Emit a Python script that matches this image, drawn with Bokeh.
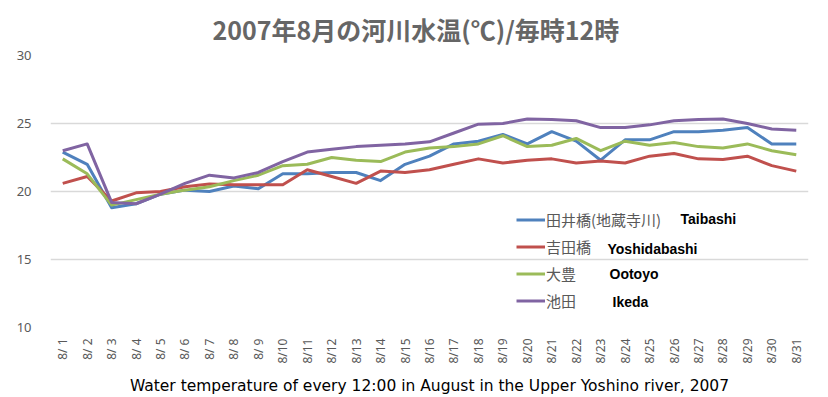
import math
from bokeh.plotting import figure
from bokeh.models import Legend, LegendItem, Label, ColumnDataSource, FixedTicker
from bokeh.embed import file_html
from bokeh.resources import INLINE

days = ["8/ 1", "8/ 2", "8/ 3", "8/ 4", "8/ 5", "8/ 6", "8/ 7", "8/ 8", "8/ 9", "8/10",
        "8/11", "8/12", "8/13", "8/14", "8/15", "8/16", "8/17", "8/18", "8/19", "8/20",
        "8/21", "8/22", "8/23", "8/24", "8/25", "8/26", "8/27", "8/28", "8/29", "8/30", "8/31"]

taibashi = [22.9, 22.0, 18.8, 19.1, 19.8, 20.1, 20.0, 20.4, 20.2, 21.3,
            21.3, 21.4, 21.4, 20.8, 22.0, 22.6, 23.5, 23.7, 24.2, 23.5,
            24.4, 23.7, 22.3, 23.8, 23.8, 24.4, 24.4, 24.5, 24.7, 23.5, 23.5]
yoshidabashi = [20.6, 21.1, 19.3, 19.9, 20.0, 20.35, 20.55, 20.5, 20.5, 20.5,
                21.6, 21.1, 20.6, 21.5, 21.4, 21.6, 22.0, 22.4, 22.1, 22.3,
                22.4, 22.1, 22.25, 22.1, 22.6, 22.8, 22.4, 22.35, 22.6, 21.9, 21.5]
ootoyo = [22.4, 21.3, 19.0, 19.4, 19.8, 20.1, 20.35, 20.8, 21.2, 21.9,
          22.0, 22.5, 22.3, 22.2, 22.9, 23.2, 23.3, 23.5, 24.1, 23.3,
          23.4, 23.9, 23.0, 23.7, 23.4, 23.6, 23.3, 23.2, 23.5, 23.0, 22.7]
ikeda = [23.0, 23.5, 19.2, 19.1, 19.8, 20.6, 21.2, 21.0, 21.4, 22.2,
         22.9, 23.1, 23.3, 23.4, 23.5, 23.65, 24.3, 24.95, 25.0, 25.33,
         25.3, 25.2, 24.7, 24.7, 24.9, 25.2, 25.3, 25.33, 25.0, 24.6, 24.5]

series_jp = ["田井橋(地蔵寺川)", "吉田橋", "大豊", "池田"]
series_en = ["Taibashi", "Yoshidabashi", "Ootoyo", "Ikeda"]
colors = ["#4F81BD", "#C0504D", "#9BBB59", "#8064A2"]
y_ticks = [10, 15, 20, 25, 30]

title_text = "2007年8月の河川水温(℃)/毎時12時"
bottom_text = "Water temperature of every 12:00 in August in the Upper Yoshino river, 2007"

src = ColumnDataSource(dict(day=days, taibashi=taibashi, yoshidabashi=yoshidabashi,
                            ootoyo=ootoyo, ikeda=ikeda))

p = figure(width=828, height=397, x_range=days, y_range=(10, 30),
           output_backend="svg", toolbar_location=None,
           min_border_left=50, min_border_right=20, min_border_top=55, min_border_bottom=69)

p.title.text = title_text
p.title.align = "left"
p.title.offset = 162
p.title.text_font = "Noto Sans CJK JP"
p.title.text_font_size = "25px"
p.title.text_font_style = "bold"
p.title.text_color = "#666666"
p.title.standoff = 17

p.outline_line_color = None
p.xgrid.grid_line_color = None
p.ygrid.grid_line_color = "#D9D9D9"
p.ygrid.grid_line_width = 1.5

p.yaxis.ticker = FixedTicker(ticks=y_ticks)
for ax in (p.xaxis, p.yaxis):
    ax.axis_line_color = None
    ax.major_tick_line_color = None
    ax.minor_tick_line_color = None
    ax.major_label_text_color = "#595959"
    ax.major_label_text_font = "Noto Sans"
p.yaxis.major_label_text_font_size = "13px"
p.yaxis.major_label_standoff = 13
p.xaxis.major_label_text_font_size = "12px"
p.xaxis.major_label_orientation = math.pi / 2
p.xaxis.major_label_standoff = 5

p.xaxis.axis_label = bottom_text
p.xaxis.axis_label_standoff = 10
p.xaxis.axis_label_text_font = "DejaVu Sans"
p.xaxis.axis_label_text_font_size = "15.5px"
p.xaxis.axis_label_text_font_style = "normal"
p.xaxis.axis_label_text_color = "black"

keys = ["taibashi", "yoshidabashi", "ootoyo", "ikeda"]
renderers = []
for k, c in zip(keys, colors):
    r = p.line(x="day", y=k, source=src, line_color=c, line_width=3, line_join="round")
    renderers.append(r)

legend = Legend(items=[LegendItem(label=lab, renderers=[r]) for lab, r in zip(series_jp, renderers)],
                location=(466, 13), padding=0, spacing=0, margin=0,
                border_line_color=None, background_fill_alpha=0,
                glyph_width=29, glyph_height=27, label_height=27, label_standoff=1,
                label_text_font="Noto Sans CJK JP", label_text_font_size="15px",
                label_text_color="#595959")
p.add_layout(legend)

en_pos = [(630, 109), (557, 79), (559, 54), (562, 26)]
for txt, (sx, sy) in zip(series_en, en_pos):
    p.add_layout(Label(x=sx, y=sy, x_units="screen", y_units="screen", text=txt,
                       text_font="Liberation Sans", text_font_size="14px",
                       text_font_style="bold", text_color="black", text_baseline="middle"))

open("out.html", "w").write(file_html(p, INLINE))
